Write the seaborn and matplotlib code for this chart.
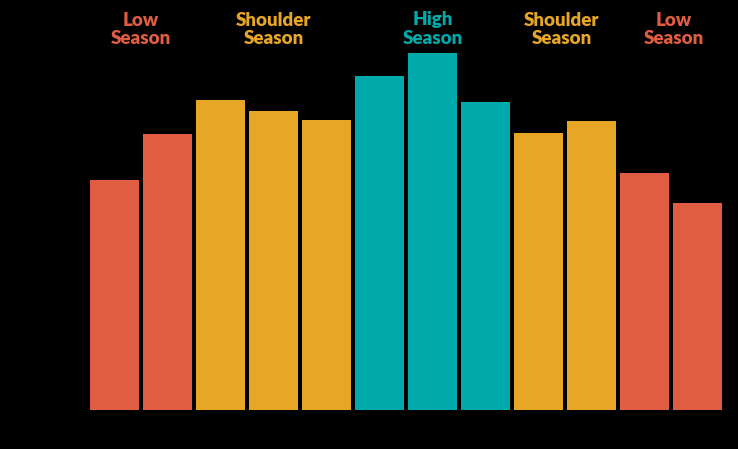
import matplotlib
matplotlib.use("Agg")
import matplotlib.pyplot as plt
import seaborn as sns
import pandas as pd

months = ["Jan", "Feb", "Mar", "Apr", "May", "Jun", "Jul", "Aug", "Sep", "Oct", "Nov", "Dec"]
values = [230, 276, 310, 299, 290, 334, 357, 308, 277, 289, 237, 207]
seasons = ["Low", "Low", "Shoulder", "Shoulder", "Shoulder", "High", "High", "High",
           "Shoulder", "Shoulder", "Low", "Low"]
season_colors = {"Low": "#E05D42", "Shoulder": "#E8A627", "High": "#00AAAA"}
label_texts = ["Low\nSeason", "Shoulder\nSeason", "High\nSeason", "Shoulder\nSeason", "Low\nSeason"]
label_seasons = ["Low", "Shoulder", "High", "Shoulder", "Low"]
label_pos = [0.5, 3.0, 6.0, 8.44, 10.55]

df = pd.DataFrame({"month": months, "value": values, "season": seasons})

sns.set_theme(style="white")
plt.rcParams['font.family'] = ['Lato', 'DejaVu Sans']

fig = plt.figure(figsize=(7.38, 4.49), dpi=100, facecolor="black")
ax = fig.add_axes([88/738, 39/449, 636/738, 410/449])
ax.set_facecolor("black")

sns.barplot(data=df, x="month", y="value", hue="month",
            palette=[season_colors[s] for s in seasons], legend=False,
            width=0.92, saturation=1, linewidth=0, ax=ax)

ax.set_xlim(-0.5, 11.5)
ax.set_ylim(0, 410)
ax.set_xticks([])
ax.set_yticks([])
ax.set_xlabel("")
ax.set_ylabel("")
for s in ax.spines.values():
    s.set_visible(False)

for txt, s, x in zip(label_texts, label_seasons, label_pos):
    ax.text(x, 398.5, txt, ha="center", va="top", fontsize=13.5, fontweight="heavy",
            color=season_colors[s], linespacing=1.1)

fig.savefig("out.png", dpi=100, facecolor="black")
